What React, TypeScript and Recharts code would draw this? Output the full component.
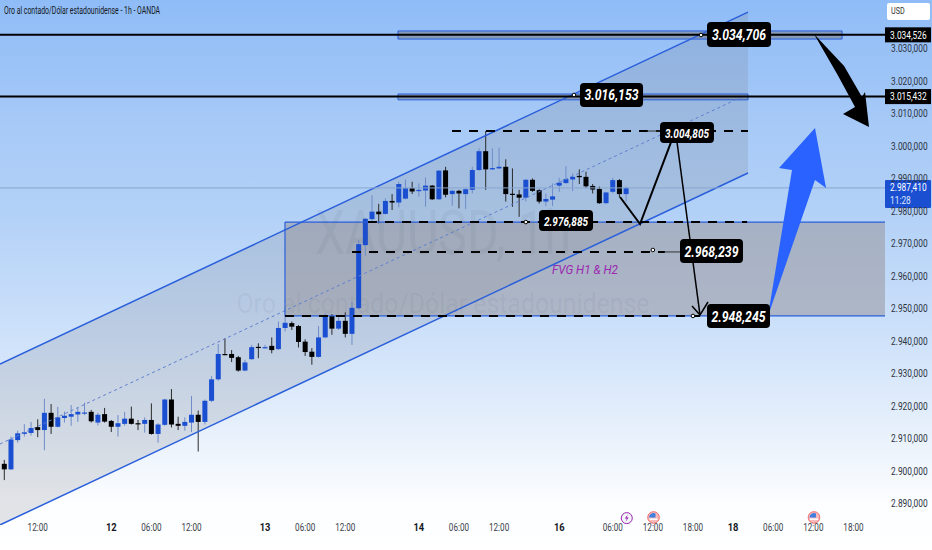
import React from "react";
import { ComposedChart, XAxis, YAxis, Bar, Line, ReferenceArea, ReferenceDot } from "recharts";

const opens = [2902.2,2900.5,2909.5,2911.4,2911.7,2913.5,2912.6,2917.9,2913.6,2916.3,2916.7,2917.4,2917.9,2918.2,2914.9,2917.5,2915.4,2913.6,2914.5,2916.1,2914.7,2914.5,2915.7,2911.4,2914.2,2922.0,2914.5,2913.9,2914.9,2917.3,2915.1,2921.6,2928.2,2936.0,2936.0,2935.0,2930.9,2934.4,2938.2,2937.9,2938.5,2937.5,2944.0,2945.5,2944.6,2939.8,2936.7,2935.1,2941.1,2947.7,2943.8,2946.2,2942.2,2950.1,2969.5,2977.5,2979.8,2979.1,2983.1,2982.6,2983.8,2987.0,2986.1,2986.3,2987.8,2983.6,2992.5,2985.2,2986.2,2985.2,2986.5,2992.6,2998.4,2992.8,2993.1,2993.6,2985.3,2985.1,2984.1,2989.6,2986.4,2982.9,2983.5,2987.8,2988.6,2989.7,2990.8,2990.5,2987.7,2986.8,2982.4,2985.9,2989.5,2985.2];
const highs = [2903.4,2910.6,2912.4,2914.4,2915.1,2915.9,2922.2,2920.6,2919.7,2918.3,2920.3,2919.4,2921.0,2918.8,2917.9,2919.4,2915.7,2917.2,2918.2,2919.8,2915.7,2916.5,2920.8,2914.7,2922.2,2925.2,2916.7,2916.5,2923.1,2918.6,2922.0,2929.2,2939.1,2940.8,2937.2,2935.4,2934.2,2938.8,2939.3,2938.8,2941.1,2946.0,2948.0,2946.0,2944.9,2940.5,2937.8,2944.6,2948.5,2948.3,2948.0,2948.8,2952.1,2971.1,2977.8,2984.9,2982.2,2983.9,2985.2,2989.0,2989.7,2989.0,2988.5,2990.3,2988.0,2992.6,2993.6,2986.5,2986.5,2987.0,2993.6,2999.3,3004.6,2999.3,2999.5,2995.9,2993.1,2986.5,2989.8,2990.0,2986.7,2985.4,2988.5,2990.2,2993.8,2991.6,2992.8,2992.1,2988.3,2987.5,2985.9,2990.2,2989.8,2987.5];
const lows = [2897.2,2900.3,2908.7,2910.6,2910.9,2910.4,2906.4,2911.4,2913.4,2914.9,2913.9,2915.1,2917.2,2914.9,2914.0,2914.9,2912.0,2910.6,2913.9,2914.3,2912.6,2911.8,2911.2,2908.7,2913.9,2913.4,2912.6,2912.4,2912.0,2906.0,2914.3,2921.2,2927.8,2935.6,2933.5,2930.6,2930.7,2934.2,2934.7,2937.7,2936.2,2937.2,2942.9,2943.4,2938.0,2935.4,2932.7,2934.9,2941.0,2941.9,2943.4,2941.1,2938.8,2949.8,2966.2,2976.7,2976.2,2978.9,2980.3,2981.1,2983.6,2985.2,2984.4,2981.3,2983.4,2983.4,2984.2,2981.6,2980.8,2980.6,2985.4,2992.4,2986.5,2992.7,2992.9,2982.9,2981.3,2978.2,2982.9,2985.9,2982.3,2981.5,2981.5,2985.9,2988.3,2986.1,2988.3,2987.0,2985.4,2982.2,2982.2,2985.4,2984.2,2982.9];
const closes = [2900.5,2909.7,2911.6,2911.9,2913.2,2912.6,2917.9,2913.6,2916.5,2917.0,2917.5,2918.2,2918.0,2915.3,2917.3,2915.2,2913.6,2914.7,2916.1,2914.5,2914.5,2915.7,2911.4,2914.3,2922.0,2914.3,2913.9,2915.1,2917.3,2915.1,2921.6,2928.2,2936.0,2935.8,2934.8,2930.9,2933.4,2938.1,2937.9,2938.1,2937.2,2944.0,2945.6,2944.4,2939.7,2936.6,2935.1,2941.1,2947.7,2943.8,2946.2,2942.2,2950.2,2969.8,2977.6,2979.8,2979.0,2983.1,2982.6,2988.3,2987.0,2986.0,2986.5,2987.8,2983.6,2992.4,2985.0,2986.2,2985.4,2986.7,2992.6,2998.4,2992.8,2993.2,2993.6,2985.2,2985.0,2984.1,2989.6,2986.2,2982.9,2983.7,2984.5,2988.7,2989.8,2990.5,2990.4,2987.6,2986.6,2982.4,2985.7,2989.5,2985.2,2987.1];

const priceTicks = [3030,3020,3010,3000,2990,2980,2970,2960,2950,2940,2930,2920,2910,2900,2890];
const timeTicks = [5,16,22,28,39,45,51,62,68,74,83,91,97,103,109,115,121,127];
const timeLabels = ["12:00","12","06:00","12:00","13","06:00","12:00","14","06:00","12:00","16","06:00","12:00","18:00","18","06:00","12:00","18:00"];

const xDomain = [-0.643, 131.72];
const yDomain = [2883.38, 3044.92];

const channelUpper = [{ x: -0.643, y: 2932.9 }, { x: 111.23, y: 3041.2 }];
const channelLower = [{ x: -0.643, y: 2883.4 }, { x: 111.23, y: 2991.7 }];
const channelMid = [{ x: -0.643, y: 2908.3 }, { x: 111.23, y: 3016.0 }];
const swingDown = [{ x: 92.09, y: 2984.3 }, { x: 95.08, y: 2976.0 }, { x: 99.72, y: 3001.2 }];
const swingFall = [{ x: 100.47, y: 3003.4 }, { x: 104.05, y: 2948.0 }];
const swingHead = [{ x: 102.86, y: 2950.8 }, { x: 104.05, y: 2948.0 }, { x: 105.25, y: 2952.0 }];
const dashedLevels = [
  { y: 3004.6, from: 66.96, to: 111.23 },
  { y: 2976.6, from: 54.4, to: 111.1 },
  { y: 2967.4, from: 52.0, to: 98.8 },
  { y: 2947.7, from: 41.98, to: 104.05 },
];
const thinLinks = [
  { y: 3004.6, from: 96.1, to: 98.2 },
  { y: 2967.4, from: 98.8, to: 101.2 },
];
const blackLevels = [3034.2, 3015.2];
const currentPrice = 2987.1;
const fvgEdges = [2976.6, 2947.7];
const fvgX = [41.98, 131.72];
const blackArrow = [[121.1,3034.46],[125.6,3024.6],[128.28,3015.07],[128.73,3016.6],[129.33,3005.84],[125.44,3009.84],[127.24,3012.0],[124.6,3022.0]];
const blueArrow = [[121.25,3005.5],[122.9,2987.07],[121.25,2989.5],[114.22,2947.7],[117.81,2992.6],[115.87,2993.2]];
const channelPoly = [[-0.643,2932.9],[111.23,3041.2],[111.23,2991.7],[-0.643,2883.4]];
const zones = [
  { x1: 58.88, x2: 125.3, y1: 3032.9, y2: 3035.4 },
  { x1: 58.88, x2: 111.23, y1: 3014.2, y2: 3016.0 },
];
const pills = [
  { text: "3.034,706", x1: 105.1, x2: 114.67, y1: 3030.46, y2: 3038.15, size: 15.5, w: 54 },
  { text: "3.016,153", x1: 86.1, x2: 95.53, y1: 3012.0, y2: 3019.38, size: 15.5, w: 54 },
  { text: "3.004,805", x1: 98.07, x2: 106.14, y1: 3000.92, y2: 3007.38, size: 13, w: 44 },
  { text: "2.976,885", x1: 79.97, x2: 88.05, y1: 2973.84, y2: 2980.3, size: 13, w: 44 },
  { text: "2.968,239", x1: 101.06, x2: 110.48, y1: 2963.99, y2: 2971.38, size: 15.5, w: 54 },
  { text: "2.948,245", x1: 105.1, x2: 114.52, y1: 2943.99, y2: 2951.38, size: 15.5, w: 54 },
];
const handles = [[104.2,3034.15],[85.2,3015.7],[97,2968],[103,2947.7],[78,2976.6]];
const priceTags = [
  { y: 3034.2, text: "3.034,526" },
  { y: 3015.2, text: "3.015,432" },
];
const currentTag = { y: 2987.1, text: "2.987,410", time: "11:28" };
const flagEvents = [97.1, 121.1];
const boltEvent = 93.1;

const candles = opens.map((open, i) => ({ x: i, open, high: highs[i], low: lows[i], close: closes[i] }));

const FONT = "Roboto, sans-serif";
const BLUE = "#1b4fd1";
const LINE_BLUE = "#2a5fdc";

const CandleShape = (p: any) => {
  const { x, y, width, height, payload } = p;
  const { open, close, high, low } = payload;
  const k = height / (high - low);
  const at = (v: number) => y + (high - v) * k;
  const cx = x + width / 2;
  const up = close >= open;
  const top = at(Math.max(open, close));
  const bot = at(Math.min(open, close));
  const col = up ? BLUE : "#000";
  return (
    <g>
      <line x1={cx} x2={cx} y1={y} y2={y + height} stroke={up ? "#6f8cc8" : "#2a2a2a"} strokeWidth={1} />
      <rect x={cx - 2.5} y={top} width={5} height={Math.max(bot - top, 1.2)} fill={col} />
    </g>
  );
};

const bounds = (pts: number[][]) => {
  const xs = pts.map((q) => q[0]);
  const ys = pts.map((q) => q[1]);
  return { x1: Math.min(...xs), x2: Math.max(...xs), y1: Math.min(...ys), y2: Math.max(...ys) };
};

const polygon = (pts: number[][], fill: string, opacity = 1, zIndex?: number) => {
  const b = bounds(pts);
  return (
    <ReferenceArea
      {...b}
      ifOverflow="visible"
      zIndex={zIndex}
      shape={(p: any) => {
        const s = pts
          .map((q) => {
            const px = p.x + ((q[0] - b.x1) / (b.x2 - b.x1)) * p.width;
            const py = p.y + ((b.y2 - q[1]) / (b.y2 - b.y1)) * p.height;
            return `${px},${py}`;
          })
          .join(" ");
        return <polygon points={s} fill={fill} fillOpacity={opacity} />;
      }}
    />
  );
};

const seg = (data: any[], stroke: string, width: number, dash?: string) => (
  <Line
    data={data}
    dataKey="y"
    stroke={stroke}
    strokeWidth={width}
    strokeDasharray={dash}
    dot={false}
    activeDot={false}
    isAnimationActive={false}
    legendType="none"
  />
);

const hseg = (y: number, from: number, to: number, stroke: string, width: number, dash?: string) =>
  seg([{ x: from, y }, { x: to, y }], stroke, width, dash);

const squeezed = (x: number, y: number, text: string, size: number, sx: number, fill: string, extra: any = {}) => (
  <text transform={`translate(${x} ${y}) scale(${sx} 1)`} fontSize={size} fontFamily={FONT} fill={fill} {...extra}>
    {text}
  </text>
);

const PriceTick = (p: any) => {
  const v = String(p.payload.value);
  return squeezed(p.x + 4, p.y + 3.8, `${v.charAt(0)}.${v.slice(1)},000`, 11, 0.76, "#2e3340");
};

const TimeTick = (p: any) => {
  const label = timeLabels[timeTicks.indexOf(p.payload.value)];
  const day = label.length < 3;
  return squeezed(p.x, p.y + 4, label, 11, day ? 0.85 : 0.74, day ? "#131722" : "#3a3f4b", {
    textAnchor: "middle",
    fontWeight: day ? 700 : 400,
  });
};

const textDot = (x: number, y: number, text: string, size: number, fill: string, extra: any = {}) => (
  <ReferenceDot
    x={x}
    y={y}
    r={1}
    ifOverflow="visible"
    shape={(p: any) => (
      <text x={p.cx} y={p.cy} textAnchor="middle" dominantBaseline="central" fontSize={size} fill={fill} fontFamily={FONT} {...extra}>
        {text}
      </text>
    )}
  />
);

export default function App() {
  return (
    <div
      style={{
        position: "absolute",
        left: 0,
        top: 0,
        width: 932,
        height: 550,
        overflow: "hidden",
        background:
          "linear-gradient(180deg,#8fbcf7 0px,#a6c9f7 120px,#b4d2f7 220px,#cfe2fa 340px,#eaf2fc 440px,#fbfdff 500px,#ffffff 550px)",
      }}
    >
      <ComposedChart width={932} height={550} data={candles} margin={{ top: 0, right: 0, bottom: 0, left: 0 }}>
        <XAxis
          type="number"
          dataKey="x"
          domain={xDomain}
          allowDataOverflow
          ticks={timeTicks}
          interval={0}
          height={25}
          axisLine={false}
          tickLine={false}
          tickSize={0}
          tick={<TimeTick />}
        />
        <YAxis
          orientation="right"
          type="number"
          domain={yDomain}
          allowDataOverflow
          ticks={priceTicks}
          interval={0}
          width={47}
          axisLine={false}
          tickLine={false}
          tickSize={0}
          tick={<PriceTick />}
        />

        {textDot(65.6, 2973.5, "XAUUSD, 1h", 62, "rgba(70,80,105,0.07)", { textLength: 256, lengthAdjust: "spacingAndGlyphs" })}
        {textDot(65.6, 2951.5, "Oro al contado/Dólar estadounidense", 27, "rgba(70,80,105,0.08)", { textLength: 413, lengthAdjust: "spacingAndGlyphs" })}

        {polygon(channelPoly, "#787b86", 0.2)}
        <ReferenceArea x1={fvgX[0]} x2={fvgX[1]} y1={fvgEdges[1]} y2={fvgEdges[0]} fill="#9b9ba3" fillOpacity={0.6} stroke="none" ifOverflow="visible" />
        {zones.map((z, i) => (
          <ReferenceArea key={i} {...z} fill="#787b86" fillOpacity={0.55} stroke={LINE_BLUE} strokeWidth={1} strokeOpacity={1} ifOverflow="visible" />
        ))}

        {seg(channelUpper, LINE_BLUE, 1.5)}
        {seg(channelLower, LINE_BLUE, 1.5)}
        {seg(channelMid, "#5f7fd0", 1, "3 3")}
        {hseg(fvgEdges[0], fvgX[0], fvgX[1], LINE_BLUE, 1.2)}
        {hseg(fvgEdges[1], fvgX[0], fvgX[1], LINE_BLUE, 1.2)}
        {seg([{ x: fvgX[0], y: fvgEdges[0] }, { x: fvgX[0], y: fvgEdges[1] }], LINE_BLUE, 1.2)}
        {hseg(currentPrice, xDomain[0], xDomain[1], "#8aa6cf", 1)}
        {blackLevels.map((y) => hseg(y, xDomain[0], xDomain[1], "#000", 2))}

        <Bar dataKey={(d: any) => [d.low, d.high]} barSize={5} shape={<CandleShape />} isAnimationActive={false} legendType="none" />

        {dashedLevels.map((d) => hseg(d.y, d.from, d.to, "#000", 2, "9 8"))}
        {thinLinks.map((d) => hseg(d.y, d.from, d.to, "#333", 1))}
        {seg(swingDown, "#000", 2)}
        {seg(swingFall, "#000", 1.5)}
        {seg(swingHead, "#000", 1.5)}

        {polygon(blackArrow, "#000", 1, 700)}
        {polygon(blueArrow, "#2962ff", 1, 700)}

        {handles.map((h, i) => (
          <ReferenceDot key={i} x={h[0]} y={h[1]} r={1.8} fill="#fff" stroke="#000" strokeWidth={1} ifOverflow="visible" />
        ))}

        {textDot(86.85, 2962.2, "FVG H1 & H2", 13.5, "#9c27b0", { fontStyle: "italic", textLength: 66, lengthAdjust: "spacingAndGlyphs" })}

        {pills.map((t, i) => (
          <ReferenceArea
            key={i}
            x1={t.x1}
            x2={t.x2}
            y1={t.y1}
            y2={t.y2}
            ifOverflow="visible"
            zIndex={1000}
            shape={(p: any) => (
              <g>
                <rect x={p.x} y={p.y} width={p.width} height={p.height} rx={4} fill="#000" />
                <text
                  x={p.x + p.width / 2}
                  y={p.y + p.height / 2 + 0.5}
                  textAnchor="middle"
                  dominantBaseline="central"
                  fontSize={t.size}
                  fontWeight={700}
                  fontStyle="italic"
                  fontFamily={FONT}
                  fill="#fff"
                  textLength={t.w}
                  lengthAdjust="spacingAndGlyphs"
                >
                  {t.text}
                </text>
              </g>
            )}
          />
        ))}

        {priceTags.map((t, i) => (
          <ReferenceDot
            key={i}
            x={xDomain[1]}
            y={t.y}
            r={1}
            ifOverflow="visible"
            shape={(p: any) => (
              <g>
                <rect x={p.cx} y={p.cy - 7.5} width={46} height={15} fill="#000" />
                {squeezed(p.cx + 5, p.cy + 3.8, t.text, 11, 0.76, "#fff")}
              </g>
            )}
          />
        ))}
        <ReferenceDot
          x={xDomain[1]}
          y={currentTag.y}
          r={1}
          ifOverflow="visible"
          shape={(p: any) => (
            <g>
              <rect x={p.cx} y={p.cy - 8} width={46} height={28} rx={1} fill="#1b4fd1" />
              {squeezed(p.cx + 5, p.cy + 3, currentTag.text, 11, 0.76, "#fff")}
              {squeezed(p.cx + 5, p.cy + 16, currentTag.time, 11, 0.76, "#dbe6ff")}
            </g>
          )}
        />

        <ReferenceDot
          x={boltEvent}
          y={2885.5}
          r={1}
          ifOverflow="visible"
          shape={(p: any) => (
            <g>
              <circle cx={p.cx} cy={p.cy} r={5.5} fill="#f4f6fb" stroke="#9c27b0" strokeWidth={1} />
              <path
                d={`M${p.cx + 1} ${p.cy - 3.5} L${p.cx - 2} ${p.cy + 0.5} L${p.cx} ${p.cy + 0.5} L${p.cx - 1} ${p.cy + 3.5} L${p.cx + 2} ${p.cy - 0.7} L${p.cx} ${p.cy - 0.7} Z`}
                fill="#9c27b0"
              />
            </g>
          )}
        />
        {flagEvents.map((x, i) => (
          <ReferenceDot
            key={i}
            x={x}
            y={2885.7}
            r={1}
            ifOverflow="visible"
            shape={(p: any) => (
              <g>
                <circle cx={p.cx} cy={p.cy} r={5.8} fill="#f7b9b9" stroke="#ef6c6c" strokeWidth={1} />
                <path d={`M${p.cx - 4.5} ${p.cy} A4.5 4.5 0 0 1 ${p.cx + 2} ${p.cy - 4} L${p.cx + 2} ${p.cy} Z`} fill="#3f7fe0" />
                <rect x={p.cx - 4} y={p.cy + 1} width={8} height={1.6} fill="#fff" />
              </g>
            )}
          />
        ))}
      </ComposedChart>

      <div
        style={{
          position: "absolute",
          left: 4,
          top: 5,
          fontFamily: FONT,
          fontSize: 10,
          color: "#131722",
          whiteSpace: "nowrap",
          lineHeight: "12px",
          transform: "scaleX(0.69)",
          transformOrigin: "left center",
        }}
      >
        Oro al contado/Dólar estadounidense - 1h - OANDA
      </div>
      <div
        style={{
          position: "absolute",
          left: 887,
          top: 3,
          width: 43,
          height: 17,
          background: "#fff",
          borderRadius: 2,
          fontFamily: FONT,
          fontSize: 9,
          color: "#333",
          lineHeight: "17px",
          paddingLeft: 4,
          boxSizing: "border-box",
        }}
      >
        <span style={{ display: "inline-block", transform: "scaleX(0.8)", transformOrigin: "left center" }}>USD</span>
      </div>
    </div>
  );
}
